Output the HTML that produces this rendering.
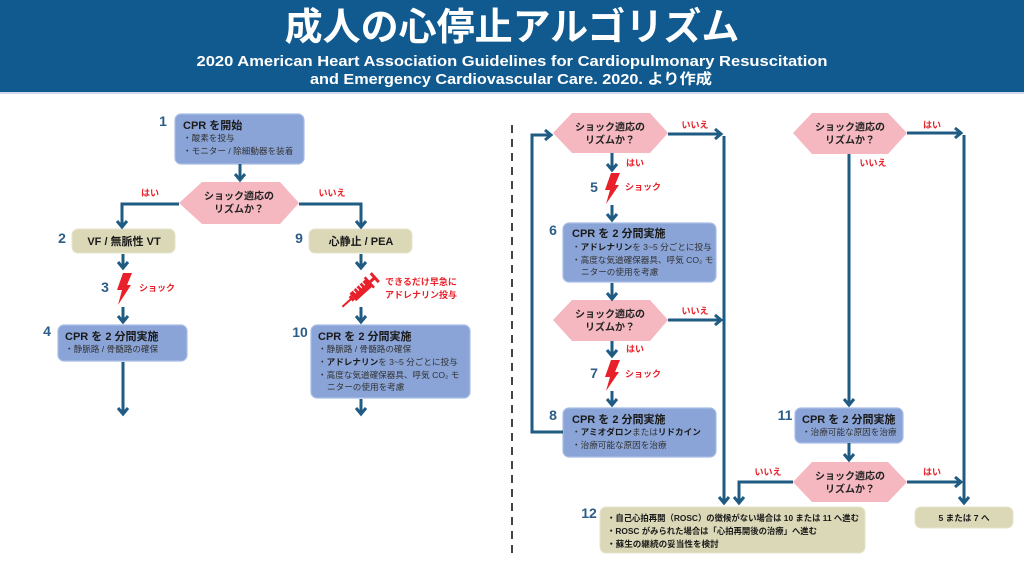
<!DOCTYPE html>
<html><head><meta charset="utf-8"><style>
html,body{margin:0;padding:0;background:#fff;}
svg{display:block;}
text{font-family:"Liberation Sans","Noto Sans CJK JP",sans-serif;}
.t{font-size:11px;font-weight:bold;fill:#1a1a1a;}
.b{font-size:8.6px;fill:#333;}
.bb{font-size:8.6px;fill:#1a1a1a;font-weight:bold;}
.h{font-size:10px;font-weight:bold;fill:#222;}
.r{font-size:9px;font-weight:bold;fill:#e8202a;}
.n{font-size:14px;font-weight:bold;fill:#2b5d88;}
</style></head><body>
<svg width="1024" height="576" viewBox="0 0 1024 576" xmlns="http://www.w3.org/2000/svg">
<!-- header -->
<rect x="0" y="0" width="1024" height="92" fill="#105a8f"/>
<rect x="0" y="92" width="1024" height="2" fill="#cfdbe8"/>
<text x="512" y="28" text-anchor="middle" dominant-baseline="central" font-size="38" font-weight="bold" fill="#fff">成人の心停止アルゴリズム</text>
<text x="512" y="62" text-anchor="middle" dominant-baseline="central" font-size="14.5" font-weight="bold" fill="#fff" textLength="631" lengthAdjust="spacingAndGlyphs">2020 American Heart Association Guidelines for Cardiopulmonary Resuscitation</text>
<text x="511" y="80" text-anchor="middle" dominant-baseline="central" font-size="14.5" font-weight="bold" fill="#fff" textLength="402" lengthAdjust="spacingAndGlyphs">and Emergency Cardiovascular Care. 2020. より作成</text>

<!-- dashed divider -->
<line x1="512" y1="125" x2="512" y2="553" stroke="#444" stroke-width="2" stroke-dasharray="8,6"/>

<!-- boxes -->
<g stroke="#a9bde6" stroke-width="1.2" fill="#8aa4d7">
<rect x="175" y="114" width="129" height="50" rx="6"/>
<rect x="58" y="325" width="129" height="36" rx="6"/>
<rect x="311" y="325" width="159" height="73" rx="6"/>
<rect x="563" y="223" width="153" height="59" rx="6"/>
<rect x="563" y="408" width="153" height="49" rx="6"/>
<rect x="795" y="408" width="108" height="35" rx="6"/>
</g>
<g fill="#dbd8b7" stroke="#e6e3cb" stroke-width="1">
<rect x="72" y="229" width="103" height="24" rx="6"/>
<rect x="309" y="229" width="103" height="24" rx="6"/>
<rect x="600" y="507" width="265" height="46" rx="6"/>
<rect x="915" y="507" width="98" height="21" rx="6"/>
</g>
<!-- hexagons -->
<g fill="#f5b8c1">
<polygon points="179,203 202,182 280,182 299,203 280,224 202,224"/>
<polygon points="553,133 572,113 650,113 668,133 650,153 572,153"/>
<polygon points="553,320 572,300 650,300 668,320 650,341 572,341"/>
<polygon points="793,133 812,113 888,113 907,133 888,154 812,154"/>
<polygon points="793,482 812,462 888,462 907,482 888,502 812,502"/>
</g>

<!-- connectors -->
<g stroke="#1f5b82" stroke-width="3" fill="none" stroke-linejoin="miter">
<line x1="240" y1="164" x2="240" y2="180"/><polyline points="235,174 240,180 245,174"/>
<polyline points="179,204 122,204 122,227"/><polyline points="117,221 122,227 127,221"/>
<polyline points="299,204 361,204 361,227"/><polyline points="356,221 361,227 366,221"/>
<line x1="123" y1="254" x2="123" y2="268"/><polyline points="118,262 123,268 128,262"/>
<line x1="123" y1="307" x2="123" y2="322"/><polyline points="118,316 123,322 128,316"/>
<line x1="123" y1="362" x2="123" y2="414"/><polyline points="118,408 123,414 128,408"/>
<line x1="361" y1="254" x2="361" y2="268"/><polyline points="356,262 361,268 366,262"/>
<line x1="361" y1="307" x2="361" y2="322"/><polyline points="356,316 361,322 366,316"/>
<line x1="361" y1="399" x2="361" y2="414"/><polyline points="356,408 361,414 366,408"/>

<polyline points="563,432 532,432 532,135 551,135"/><polyline points="545,130 551,135 545,140"/>
<line x1="668" y1="134" x2="721" y2="134"/><polyline points="715,129 721,134 715,139"/>
<line x1="724" y1="136" x2="724" y2="503"/><polyline points="719,497 724,503 729,497"/>
<line x1="612" y1="153" x2="612" y2="170"/><polyline points="607,164 612,170 617,164"/>
<line x1="612" y1="205" x2="612" y2="220"/><polyline points="607,214 612,220 617,214"/>
<line x1="612" y1="283" x2="612" y2="299"/><polyline points="607,293 612,299 617,293"/>
<line x1="668" y1="320" x2="721" y2="320"/><polyline points="715,315 721,320 715,325"/>
<line x1="612" y1="341" x2="612" y2="356"/><polyline points="607,350 612,356 617,350"/>
<line x1="612" y1="391" x2="612" y2="405"/><polyline points="607,399 612,405 617,399"/>

<line x1="907" y1="133" x2="961" y2="133"/><polyline points="955,128 961,133 955,138"/>
<line x1="964" y1="135" x2="964" y2="503"/><polyline points="959,497 964,503 969,497"/>
<line x1="849" y1="154" x2="849" y2="405"/><polyline points="844,399 849,405 854,399"/>
<line x1="849" y1="443" x2="849" y2="460"/><polyline points="844,454 849,460 854,454"/>
<polyline points="793,482 739,482 739,503"/><polyline points="734,497 739,503 744,497"/>
<line x1="907" y1="482" x2="961" y2="482"/><polyline points="955,477 961,482 955,487"/>
</g>

<!-- lightning bolts -->
<g fill="#e8202a">
<polygon points="123,273 132,273 127,285 131,285 118,305 122,290 117,290"/>
<polygon points="611,173 620,173 615,185 619,185 606,204 610,190 605,190"/>
<polygon points="611,360 620,360 615,372 619,372 606,391 610,377 605,377"/>
</g>
<!-- syringe -->
<g transform="translate(361,290) rotate(-42)" fill="#e8202a">
<rect x="-11" y="-5" width="22" height="10"/>
<rect x="-14" y="-3" width="3" height="6"/>
<rect x="-25" y="-1" width="12" height="2"/>
<rect x="10" y="-7" width="2.5" height="14"/>
<rect x="12" y="-1.5" width="6" height="3"/>
<rect x="17" y="-6" width="3" height="12"/>
<g stroke="#fff" stroke-width="1.2"><line x1="-6" y1="-5" x2="-6" y2="-1"/><line x1="-2" y1="-5" x2="-2" y2="-1"/><line x1="2" y1="-5" x2="2" y2="-1"/><line x1="6" y1="-5" x2="6" y2="-1"/></g>
</g>

<!-- numbers -->
<g class="n" dominant-baseline="central" text-anchor="middle">
<text class="n" x="163" y="121">1</text>
<text class="n" x="62" y="238">2</text>
<text class="n" x="299" y="238">9</text>
<text class="n" x="105" y="287">3</text>
<text class="n" x="47" y="331">4</text>
<text class="n" x="300" y="332">10</text>
<text class="n" x="594" y="187">5</text>
<text class="n" x="553" y="230">6</text>
<text class="n" x="594" y="373">7</text>
<text class="n" x="553" y="415">8</text>
<text class="n" x="785" y="415">11</text>
<text class="n" x="589" y="513">12</text>
</g>

<!-- red labels -->
<g dominant-baseline="central" text-anchor="middle">
<text class="r" x="150" y="193">はい</text>
<text class="r" x="332" y="193">いいえ</text>
<text class="r" x="157" y="288">ショック</text>
<text class="r" x="421" y="282">できるだけ早急に</text>
<text class="r" x="421" y="295">アドレナリン投与</text>
<text class="r" x="695" y="125">いいえ</text>
<text class="r" x="635" y="163">はい</text>
<text class="r" x="643" y="187">ショック</text>
<text class="r" x="695" y="311">いいえ</text>
<text class="r" x="635" y="349">はい</text>
<text class="r" x="643" y="374">ショック</text>
<text class="r" x="932" y="125">はい</text>
<text class="r" x="873" y="163">いいえ</text>
<text class="r" x="768" y="472">いいえ</text>
<text class="r" x="932" y="472">はい</text>
</g>

<!-- hexagon text -->
<g dominant-baseline="central" text-anchor="middle">
<text class="h" x="239" y="197">ショック適応の</text>
<text class="h" x="239" y="210">リズムか？</text>
<text class="h" x="610" y="128">ショック適応の</text>
<text class="h" x="610" y="141">リズムか？</text>
<text class="h" x="610" y="315">ショック適応の</text>
<text class="h" x="610" y="328">リズムか？</text>
<text class="h" x="850" y="128">ショック適応の</text>
<text class="h" x="850" y="141">リズムか？</text>
<text class="h" x="850" y="477">ショック適応の</text>
<text class="h" x="850" y="490">リズムか？</text>
</g>

<!-- box text -->
<g dominant-baseline="central">
<text class="t" x="183" y="126">CPR を開始</text>
<text class="b" x="183" y="138">・酸素を投与</text>
<text class="b" x="183" y="151">・モニター / 除細動器を装着</text>

<text class="t" x="124" y="242" text-anchor="middle" font-size="10.5">VF / 無脈性 VT</text>
<text class="t" x="361" y="242" text-anchor="middle" font-size="10.5">心静止 / PEA</text>

<text class="t" x="65" y="337">CPR を 2 分間実施</text>
<text class="b" x="65" y="349">・静脈路 / 骨髄路の確保</text>

<text class="t" x="318" y="337">CPR を 2 分間実施</text>
<text class="b" x="318" y="349">・静脈路 / 骨髄路の確保</text>
<text class="b" x="318" y="362">・<tspan font-weight="bold" fill="#1a1a1a">アドレナリン</tspan>を 3~5 分ごとに投与</text>
<text class="b" x="318" y="375">・高度な気道確保器具、呼気 CO₂ モ</text>
<text class="b" x="327" y="387">ニターの使用を考慮</text>

<text class="t" x="572" y="234">CPR を 2 分間実施</text>
<text class="b" x="572" y="247">・<tspan font-weight="bold" fill="#1a1a1a">アドレナリン</tspan>を 3~5 分ごとに投与</text>
<text class="b" x="572" y="260">・高度な気道確保器具、呼気 CO₂ モ</text>
<text class="b" x="581" y="272">ニターの使用を考慮</text>

<text class="t" x="572" y="420">CPR を 2 分間実施</text>
<text class="b" x="572" y="432">・<tspan font-weight="bold" fill="#1a1a1a">アミオダロン</tspan>または<tspan font-weight="bold" fill="#1a1a1a">リドカイン</tspan></text>
<text class="b" x="572" y="445">・治療可能な原因を治療</text>

<text class="t" x="802" y="420">CPR を 2 分間実施</text>
<text class="b" x="802" y="432">・治療可能な原因を治療</text>

<text class="bb" x="607" y="518" textLength="252" lengthAdjust="spacingAndGlyphs">・自己心拍再開（ROSC）の徴候がない場合は 10 または 11 へ進む</text>
<text class="bb" x="607" y="531" textLength="210" lengthAdjust="spacingAndGlyphs">・ROSC がみられた場合は「心拍再開後の治療」へ進む</text>
<text class="bb" x="607" y="544">・蘇生の継続の妥当性を検討</text>

<text class="bb" x="964" y="518" text-anchor="middle">5 または 7 へ</text>
</g>
</svg>
</body></html>
